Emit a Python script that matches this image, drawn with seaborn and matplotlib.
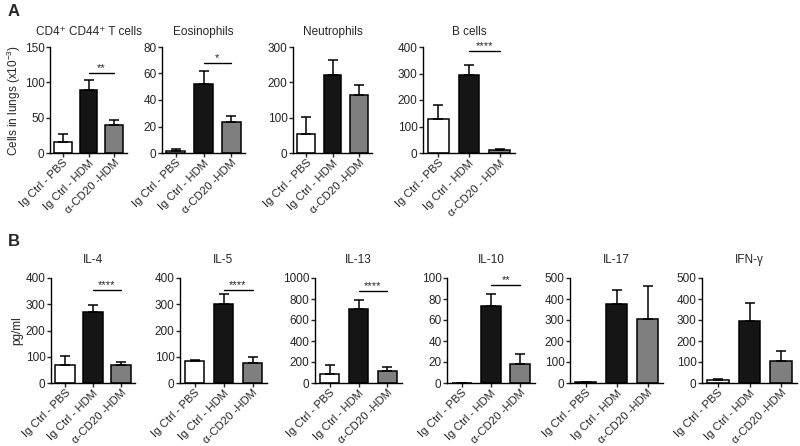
import numpy as np
import pandas as pd
import matplotlib
matplotlib.use("Agg")
import matplotlib.pyplot as plt
import seaborn as sns

sns.set_style("ticks")
plt.rcParams['font.family'] = ['Liberation Sans', 'DejaVu Sans']
plt.rcParams['mathtext.fontset'] = 'custom'
plt.rcParams['mathtext.rm'] = 'Liberation Sans'

# group labels
groups = ["Ig Ctrl - PBS", "Ig Ctrl - HDM", "α-CD20 -HDM"]
groups_b = ["Ig Ctrl - PBS", "Ig Ctrl - HDM", "α-CD20 - HDM"]
bar_colors = ["white", "#151515", "#7f7f7f"]

# Panel A - cells in lungs (x10^-3), mean and upper SEM
cd4_mean = [15, 89, 40]
cd4_err = [12, 14, 7]
eos_mean = [1.5, 52, 23.5]
eos_err = [1.5, 10, 4.5]
neu_mean = [55, 220, 163]
neu_err = [48, 43, 30]
bcell_mean = [130, 293, 10]
bcell_err = [50, 40, 4]

# Panel B - cytokines (pg/ml)
il4_mean = [70, 272, 68]
il4_err = [33, 25, 12]
il5_mean = [83, 300, 78]
il5_err = [5, 40, 22]
il13_mean = [90, 705, 115]
il13_err = [85, 85, 40]
il10_mean = [0, 73, 18]
il10_err = [0, 12, 10]
il17_mean = [4, 378, 303]
il17_err = [3, 64, 157]
ifng_mean = [15, 295, 105]
ifng_err = [2, 88, 48]

# (title, labels, mean, err, ymax, ytick step, significance label, sig height)
panels_a = [
    ("CD4⁺ CD44⁺ T cells", groups, cd4_mean, cd4_err, 150, 50, "**", 113),
    ("Eosinophils", groups, eos_mean, eos_err, 80, 20, "*", 68),
    ("Neutrophils", groups, neu_mean, neu_err, 300, 100, None, 0),
    ("B cells", groups_b, bcell_mean, bcell_err, 400, 100, "****", 385),
]
panels_b = [
    ("IL-4", groups, il4_mean, il4_err, 400, 100, "****", 353),
    ("IL-5", groups, il5_mean, il5_err, 400, 100, "****", 355),
    ("IL-13", groups, il13_mean, il13_err, 1000, 200, "****", 880),
    ("IL-10", groups, il10_mean, il10_err, 100, 20, "**", 93),
    ("IL-17", groups, il17_mean, il17_err, 500, 100, None, 0),
    ("IFN-γ", groups, ifng_mean, ifng_err, 500, 100, None, 0),
]

# axes positions in pixels: (left, width)
pos_a = [(50, 77), (162, 83), (293, 79), (423, 92)]
pos_b = [(51, 84), (180, 87), (315, 87), (447, 88), (570, 93), (702, 95)]

W, H = 800, 446
fig = plt.figure(figsize=(8, 4.46), dpi=100)
fs = 8.5


def draw_panel(rect, title, labels, mean, err, ymax, step, sig, sig_y, tpad):
    ax = fig.add_axes(rect)
    df = pd.DataFrame({"group": labels, "value": mean})
    sns.barplot(data=df, x="group", y="value", hue="group", palette=bar_colors,
                edgecolor="black", linewidth=1.1, width=0.68, legend=False,
                saturation=1, ax=ax)
    x = np.arange(len(labels))
    ax.errorbar(x, mean, yerr=[np.zeros(len(err)), err], fmt="none",
                ecolor="black", elinewidth=1.1, capsize=3.3, capthick=1.1, zorder=1)
    ax.set_xlim(-0.5, 2.5)
    ax.set_ylim(0, ymax)
    ax.set_yticks(np.arange(0, ymax + 1, step))
    ax.set_xlabel("")
    ax.set_ylabel("")
    ax.set_xticks(x)
    ax.set_xticklabels(labels, rotation=45, ha="right", va="top",
                       rotation_mode="anchor", fontsize=8.2)
    ax.tick_params(axis="y", labelsize=fs, length=3, width=1, pad=1)
    ax.tick_params(axis="x", length=3, width=1, pad=0.5)
    sns.despine(ax=ax)
    for s in ["left", "bottom"]:
        ax.spines[s].set_linewidth(1)
        ax.spines[s].set_color("black")
    ax.set_title(title, fontsize=fs, pad=tpad)
    if sig:
        ax.plot([1, 2], [sig_y, sig_y], color="black", lw=1)
        ax.text(1.5, sig_y, sig, ha="center", va="bottom", fontsize=8)
    return ax


axes_a = []
for (left, width), p in zip(pos_a, panels_a):
    rect = [left / W, 1 - 153 / H, width / W, 106 / H]
    axes_a.append(draw_panel(rect, *p, tpad=8.5))

axes_b = []
for (left, width), p in zip(pos_b, panels_b):
    rect = [left / W, 1 - 383 / H, width / W, 105 / H]
    axes_b.append(draw_panel(rect, *p, tpad=11))

axes_a[0].set_ylabel("Cells in lungs (x10$^{-3}$)", fontsize=fs)
axes_a[0].yaxis.set_label_coords((23 - 50) / 77, 0.5)
axes_b[0].set_ylabel("pg/ml", fontsize=fs)
axes_b[0].yaxis.set_label_coords((23 - 51) / 84, 0.5)

fig.text(8 / W, 1 - 12 / H, "A", fontsize=12, fontweight="bold", va="center")
fig.text(8 / W, 1 - 241 / H, "B", fontsize=12, fontweight="bold", va="center")

fig.savefig("out.png", dpi=100)
